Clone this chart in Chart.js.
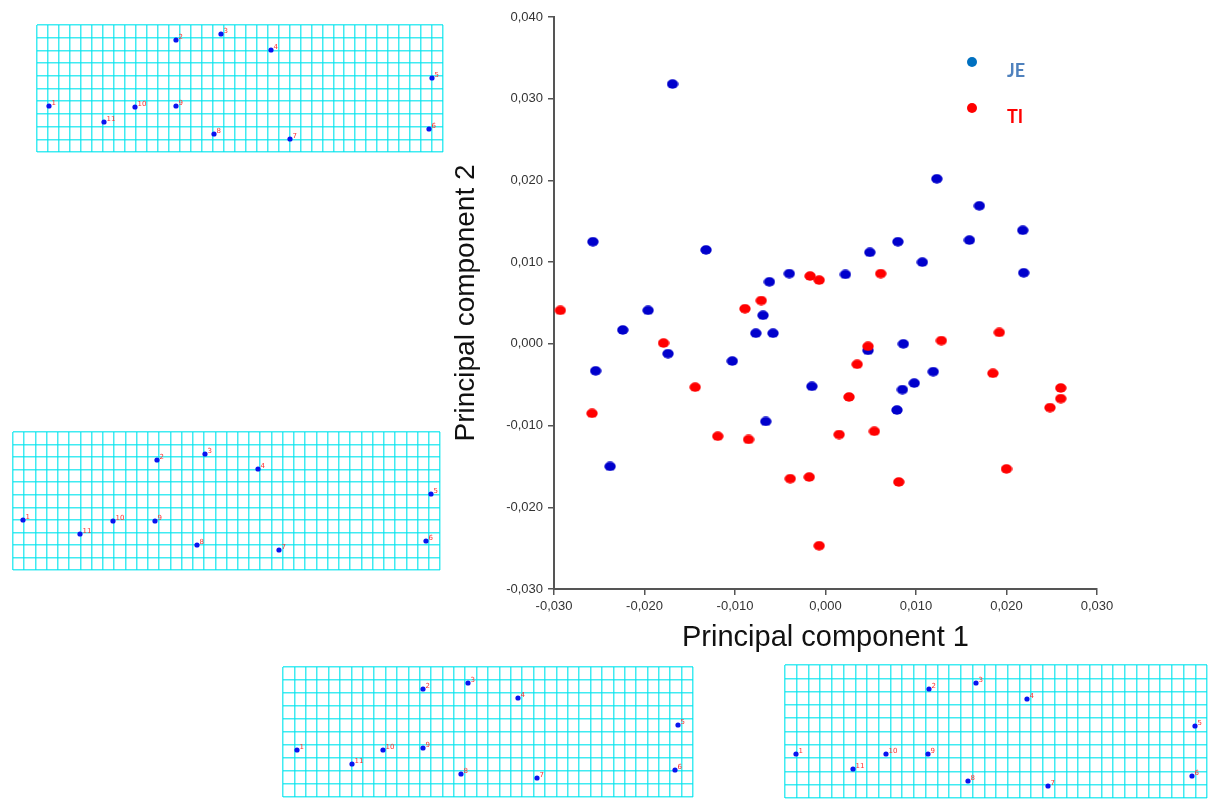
<!DOCTYPE html>
<html>
<head>
<meta charset="utf-8">
<title>PCA - JE / TI</title>
<script src="https://cdn.jsdelivr.net/npm/chart.js@4.4.1/dist/chart.umd.min.js"></script>
<style>
  html, body { margin: 0; padding: 0; background: #fff; }
  body { position: relative; width: 1212px; height: 799px; overflow: hidden; }
  .box { position: absolute; }
</style>
</head>
<body>
<div class="box" style="left:440px; top:0px;"><canvas id="pcaChart" width="700" height="660"></canvas></div>
<div class="box" style="left:36px; top:24px;"><canvas id="grid1" width="408" height="129"></canvas></div>
<div class="box" style="left:12px; top:431px;"><canvas id="grid2" width="429" height="140"></canvas></div>
<div class="box" style="left:282px; top:666px;"><canvas id="grid3" width="412" height="132"></canvas></div>
<div class="box" style="left:784px; top:664px;"><canvas id="grid4" width="424" height="135"></canvas></div>

<script>
// --- scores PC1 / PC2 ---
const jeX = [-0.0169, -0.0257, -0.0132, -0.0196, -0.0224, -0.0254, -0.0174, -0.0103, -0.0238, -0.0077,
             -0.0058, -0.0069, -0.0062, -0.0040, 0.0022, 0.0049, 0.0080, 0.0107, 0.0123, 0.0159,
             0.0170, 0.0218, 0.0219, 0.0047, 0.0086, -0.0015, -0.0066, 0.0085, 0.0098, 0.0119, 0.0079];
const jeY = [0.0318, 0.0125, 0.0115, 0.0041, 0.0017, -0.0033, -0.0012, -0.0021, -0.0150, 0.0013,
             0.0013, 0.0035, 0.0076, 0.0086, 0.0085, 0.0112, 0.0125, 0.0100, 0.0202, 0.0127,
             0.0169, 0.0139, 0.0087, -0.0008, 0.0000, -0.0052, -0.0095, -0.0056, -0.0048, -0.0034, -0.0081];

const tiX = [-0.0293, -0.0089, -0.0071, -0.0179, -0.0258, -0.0144, -0.0119, -0.0085, -0.0017, -0.0007,
             0.0061, 0.0047, 0.0035, 0.0026, 0.0015, 0.0054, -0.0039, -0.0018, -0.0007, 0.0081,
             0.0128, 0.0192, 0.0185, 0.0260, 0.0260, 0.0248, 0.0200];
const tiY = [0.0041, 0.0043, 0.0053, 0.0001, -0.0085, -0.0053, -0.0113, -0.0117, 0.0083, 0.0078,
             0.0086, -0.0003, -0.0025, -0.0065, -0.0111, -0.0107, -0.0165, -0.0163, -0.0247, -0.0169,
             0.0004, 0.0014, -0.0036, -0.0054, -0.0067, -0.0078, -0.0153];

const groupNames = ['JE', 'TI'];
const xTitle = 'Principal component 1';
const yTitle = 'Principal component 2';

// --- grilles de deformation : landmarks (px dans chaque cadre) ---
const landmarkLabels = ['1', '2', '3', '4', '5', '6', '7', '8', '9', '10', '11'];
const grid1X = [12, 139, 184, 234, 395, 392, 253, 177, 139, 98, 67];
const grid1Y = [81, 15, 9, 25, 53, 104, 114, 109, 81, 82, 97];
const grid2X = [10, 144, 192, 245, 418, 413, 266, 184, 142, 100, 67];
const grid2Y = [88, 28, 22, 37, 62, 109, 118, 113, 89, 89, 102];
const grid3X = [14, 140, 185, 235, 395, 392, 254, 178, 140, 100, 69];
const grid3Y = [83, 22, 16, 31, 58, 103, 111, 107, 81, 83, 97];
const grid4X = [11, 144, 191, 242, 410, 407, 263, 183, 143, 101, 68];
const grid4Y = [89, 24, 18, 34, 61, 111, 121, 116, 89, 89, 104];

const zip = (xs, ys) => xs.map((x, i) => ({ x: x, y: ys[i] }));

// point elliptique (comme sur la figure d'origine)
function ellipseDot(color, w, h) {
    const c = document.createElement('canvas');
    c.width = w; c.height = h;
    const g = c.getContext('2d');
    g.fillStyle = color;
    g.beginPath();
    g.ellipse(w / 2, h / 2, w / 2 - 0.3, h / 2 - 0.3, 0, 0, Math.PI * 2);
    g.fill();
    return c;
}

const fmt = v => v.toFixed(3).replace('.', ',');

// legende dessinee dans la zone du graphe
const manualLegend = {
    id: 'manualLegend',
    afterDatasetsDraw(chart) {
        const { ctx, chartArea } = chart;
        const dotX = chartArea.right - 125;
        const items = [
            { label: groupNames[0], dot: '#0070c0', text: '#4f81bd', y: chartArea.top + 45 },
            { label: groupNames[1], dot: '#ff0000', text: '#ff0000', y: chartArea.top + 91 }
        ];
        ctx.save();
        items.forEach(it => {
            ctx.fillStyle = it.dot;
            ctx.beginPath();
            ctx.arc(dotX, it.y, 5, 0, Math.PI * 2);
            ctx.fill();
            ctx.fillStyle = it.text;
            ctx.font = 'bold 18px Lato, "Open Sans", sans-serif';
            ctx.textBaseline = 'alphabetic';
            ctx.fillText(it.label, dotX + 35, it.y + 15);
        });
        ctx.restore();
    }
};

const axisColor = '#555';

new Chart(document.getElementById('pcaChart'), {
    type: 'scatter',
    data: {
        datasets: [
            {
                label: groupNames[1],
                data: zip(tiX, tiY),
                pointStyle: ellipseDot('#ff0000', 12, 10),
                backgroundColor: '#ff0000',
                borderWidth: 0
            },
            {
                label: groupNames[0],
                data: zip(jeX, jeY),
                pointStyle: ellipseDot('#0000cc', 12, 10),
                backgroundColor: '#0000cc',
                borderWidth: 0
            }
        ]
    },
    options: {
        responsive: false,
        animation: false,
        devicePixelRatio: 1,
        layout: { autoPadding: false, padding: { top: 17, right: 43, bottom: 0, left: 0 } },
        plugins: { legend: { display: false }, tooltip: { enabled: false } },
        scales: {
            x: {
                type: 'linear',
                min: -0.03, max: 0.03,
                afterFit: s => { s.height = 71; },
                ticks: {
                    stepSize: 0.01, padding: 4, color: '#333',
                    font: { family: '"Liberation Sans", Arial, sans-serif', size: 13 },
                    callback: v => fmt(v)
                },
                grid: { drawOnChartArea: false, drawTicks: true, tickLength: 6, color: axisColor, lineWidth: 1.5 },
                border: { display: true, color: axisColor, width: 2 },
                title: {
                    display: true, text: xTitle, color: '#111',
                    font: { family: '"Liberation Sans", Arial, sans-serif', size: 29 },
                    padding: { top: 0, bottom: 5 }
                }
            },
            y: {
                type: 'linear',
                min: -0.03, max: 0.04,
                afterFit: s => { s.width = 114; },
                ticks: {
                    stepSize: 0.01, padding: 5, color: '#333',
                    font: { family: '"Liberation Sans", Arial, sans-serif', size: 13 },
                    callback: v => fmt(v)
                },
                grid: { drawOnChartArea: false, drawTicks: true, tickLength: 6, color: axisColor, lineWidth: 1.5 },
                border: { display: true, color: axisColor, width: 2 },
                title: {
                    display: true, text: yTitle, color: '#111',
                    font: { family: '"Liberation Sans", Arial, sans-serif', size: 28 },
                    padding: { top: 9, bottom: 0 }
                }
            }
        }
    },
    plugins: [manualLegend]
});

// numeros des landmarks
const landmarkNumbers = {
    id: 'landmarkNumbers',
    afterDatasetsDraw(chart) {
        const { ctx } = chart;
        const meta = chart.getDatasetMeta(0);
        ctx.save();
        ctx.fillStyle = '#ff3030';
        ctx.font = '7px "DejaVu Sans", sans-serif';
        ctx.textBaseline = 'bottom';
        meta.data.forEach((pt, i) => {
            ctx.fillText(landmarkLabels[i], pt.x + 2.5, pt.y + 1);
        });
        ctx.restore();
    }
};

function deformationGrid(id, xs, ys, w, h, cols, rows) {
    const even = n => scale => {
        const max = scale.max;
        scale.ticks = Array.from({ length: n + 1 }, (_, i) => ({ value: (i * max) / n }));
    };
    const gridStyle = () => ({ color: 'rgba(0, 228, 238, 0.75)', lineWidth: 1.5, drawTicks: false });
    new Chart(document.getElementById(id), {
        type: 'scatter',
        data: {
            datasets: [{
                data: zip(xs, ys),
                pointRadius: 2.6,
                backgroundColor: '#0a14f0',
                borderWidth: 0
            }]
        },
        options: {
            responsive: false,
            animation: false,
            devicePixelRatio: 1,
            layout: { autoPadding: false, padding: 1 },
            plugins: { legend: { display: false }, tooltip: { enabled: false } },
            scales: {
                x: {
                    type: 'linear', min: 0, max: w,
                    afterBuildTicks: even(cols),
                    ticks: { display: false },
                    grid: gridStyle(),
                    border: { display: false }
                },
                y: {
                    type: 'linear', min: 0, max: h, reverse: true,
                    afterBuildTicks: even(rows),
                    ticks: { display: false },
                    grid: gridStyle(),
                    border: { display: false }
                }
            }
        },
        plugins: [landmarkNumbers]
    });
}

deformationGrid('grid1', grid1X, grid1Y, 406, 127, 37, 10);
deformationGrid('grid2', grid2X, grid2Y, 427, 138, 38, 11);
deformationGrid('grid3', grid3X, grid3Y, 410, 130, 36, 10);
deformationGrid('grid4', grid4X, grid4Y, 422, 133, 36, 10);
</script>
</body>
</html>
